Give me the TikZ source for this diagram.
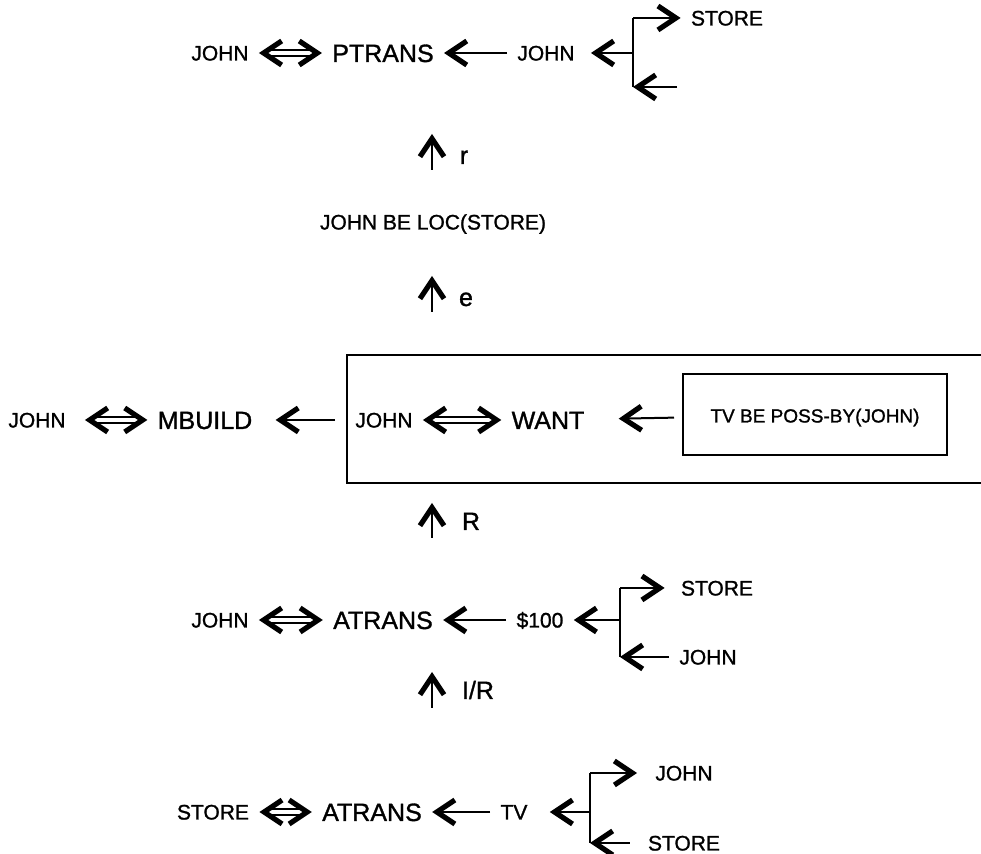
\documentclass[tikz,border=0pt]{standalone}
\usepackage{fontspec}
\setmainfont{Liberation Sans}[RawFeature={embolden=1.2}]
\usetikzlibrary{arrows.meta}
\tikzset{
	sm/.style={font=\fontsize{10.5}{12}\selectfont, inner xsep=5pt, inner ysep=0pt, text height=7.5pt, text depth=0pt},
	bg/.style={font=\fontsize{12.5}{14}\selectfont, inner xsep=5pt, inner ysep=0pt, text height=9pt, text depth=0pt},
	ln/.style={line width=1pt},
	arr/.style={line width=1pt, -{Straight Barb[length=9pt,width=12pt,line width=2.6pt]}},
	dbl/.style={double, double distance=1.6pt, line width=1pt, {Straight Barb[length=9pt,width=12pt,line width=2.6pt]}-{Straight Barb[length=9pt,width=12pt,line width=2.6pt]}},
	frame/.style={line width=1pt}
}
\begin{document}
\begin{tikzpicture}[x=0.5pt, y=-0.5pt]
		\useasboundingbox (0,0) rectangle (981,854);

		% PTRANS
		\node[sm] (j1) at (220,53) {JOHN};
		\node[bg] (pt) at (383,53) {PTRANS};
		\node[sm] (j2) at (546,53) {JOHN};
		\node[sm] (st1) at (727,18) {STORE};
		\coordinate (b1t) at (633,18);
		\coordinate (b1m) at (633,53);
		\coordinate (b1b) at (633,87);
		\coordinate (b1e) at (677,87);
		\draw[dbl] (j1) -- (pt);
		\draw[arr] (j2) -- (pt);
		\draw[ln] (b1t) -- (b1b);
		\draw[arr, shorten >=3pt] (b1m) -- (j2);
		\draw[arr] (b1t) -- (st1);
		\draw[arr] (b1e) -- (b1b);

		% r, e
		\coordinate (r0) at (432,170);
		\coordinate (r1) at (432,134);
		\draw[arr] (r0) -- (r1);
		\node[bg] (lr) at (464,155) {r};
		\node[sm] (loc) at (433,222) {JOHN BE LOC(STORE)};
		\coordinate (e0) at (432,312);
		\coordinate (e1) at (432,276);
		\draw[arr] (e0) -- (e1);
		\node[bg] (le) at (466,297) {e};

		% MBUILD, WANT
		\node[sm] (j3) at (37,420) {JOHN};
		\node[bg] (mb) at (205,420) {MBUILD};
		\draw[frame] (981,355) -| (347,483) -- (981,483);
		\coordinate (wbw) at (347,420);
		\node[sm] (j4) at (384,420) {JOHN};
		\node[bg] (wt) at (548,420) {WANT};
		\node[draw, frame, sm, font=\fontsize{9.5}{11}\selectfont, minimum width=132pt, minimum height=40.5pt] (tvb) at (815,415) {TV BE POSS-BY(JOHN)};
		\draw[dbl, shorten <=4.5pt] (j3) -- (mb);
		\draw[arr, shorten <=6pt, shorten >=6.5pt] (wbw) -- (mb);
		\draw[dbl] (j4) -- (wt);
		\draw[arr, shorten <=4pt, shorten >=12pt] (tvb) -- (wt);

		% R
		\coordinate (R0) at (432,538);
		\coordinate (R1) at (432,503);
		\draw[arr] (R0) -- (R1);
		\node[bg] (lR) at (471,521) {R};

		% ATRANS 1
		\node[sm] (j5) at (220,620) {JOHN};
		\node[bg] (at1) at (383,620) {ATRANS};
		\node[sm] (d100) at (540,620) {\$100};
		\node[sm] (st2) at (717,588) {STORE};
		\node[sm] (j6) at (708,657) {JOHN};
		\coordinate (b2t) at (620,588);
		\coordinate (b2m) at (620,620);
		\coordinate (b2b) at (620,657);
		\draw[dbl] (j5) -- (at1);
		\draw[arr] (d100) -- (at1);
		\draw[ln] (b2t) -- (b2b);
		\draw[arr] (b2m) -- (d100);
		\draw[arr, shorten >=3pt] (b2t) -- (st2);
		\draw[arr] (j6) -- (b2b);

		% I/R
		\coordinate (ir0) at (432,708);
		\coordinate (ir1) at (432,672);
		\draw[arr] (ir0) -- (ir1);
		\node[bg] (lir) at (478,690) {I/R};

		% ATRANS 2
		\node[sm] (st3) at (213,812) {STORE};
		\node[bg] (at2) at (372,812) {ATRANS};
		\node[sm] (tv) at (514,812) {TV};
		\node[sm] (j7) at (684,773) {JOHN};
		\node[sm] (st4) at (684,843) {STORE};
		\coordinate (b3t) at (590,773);
		\coordinate (b3m) at (590,812);
		\coordinate (b3b) at (590,843);
		\draw[dbl] (st3) -- (at2);
		\draw[arr] (tv) -- (at2);
		\draw[ln] (b3t) -- (b3b);
		\draw[arr, shorten >=6pt] (b3m) -- (tv);
		\draw[arr, shorten >=4pt] (b3t) -- (j7);
		\draw[arr, shorten <=4pt] (st4) -- (b3b);
\end{tikzpicture}
\end{document}
